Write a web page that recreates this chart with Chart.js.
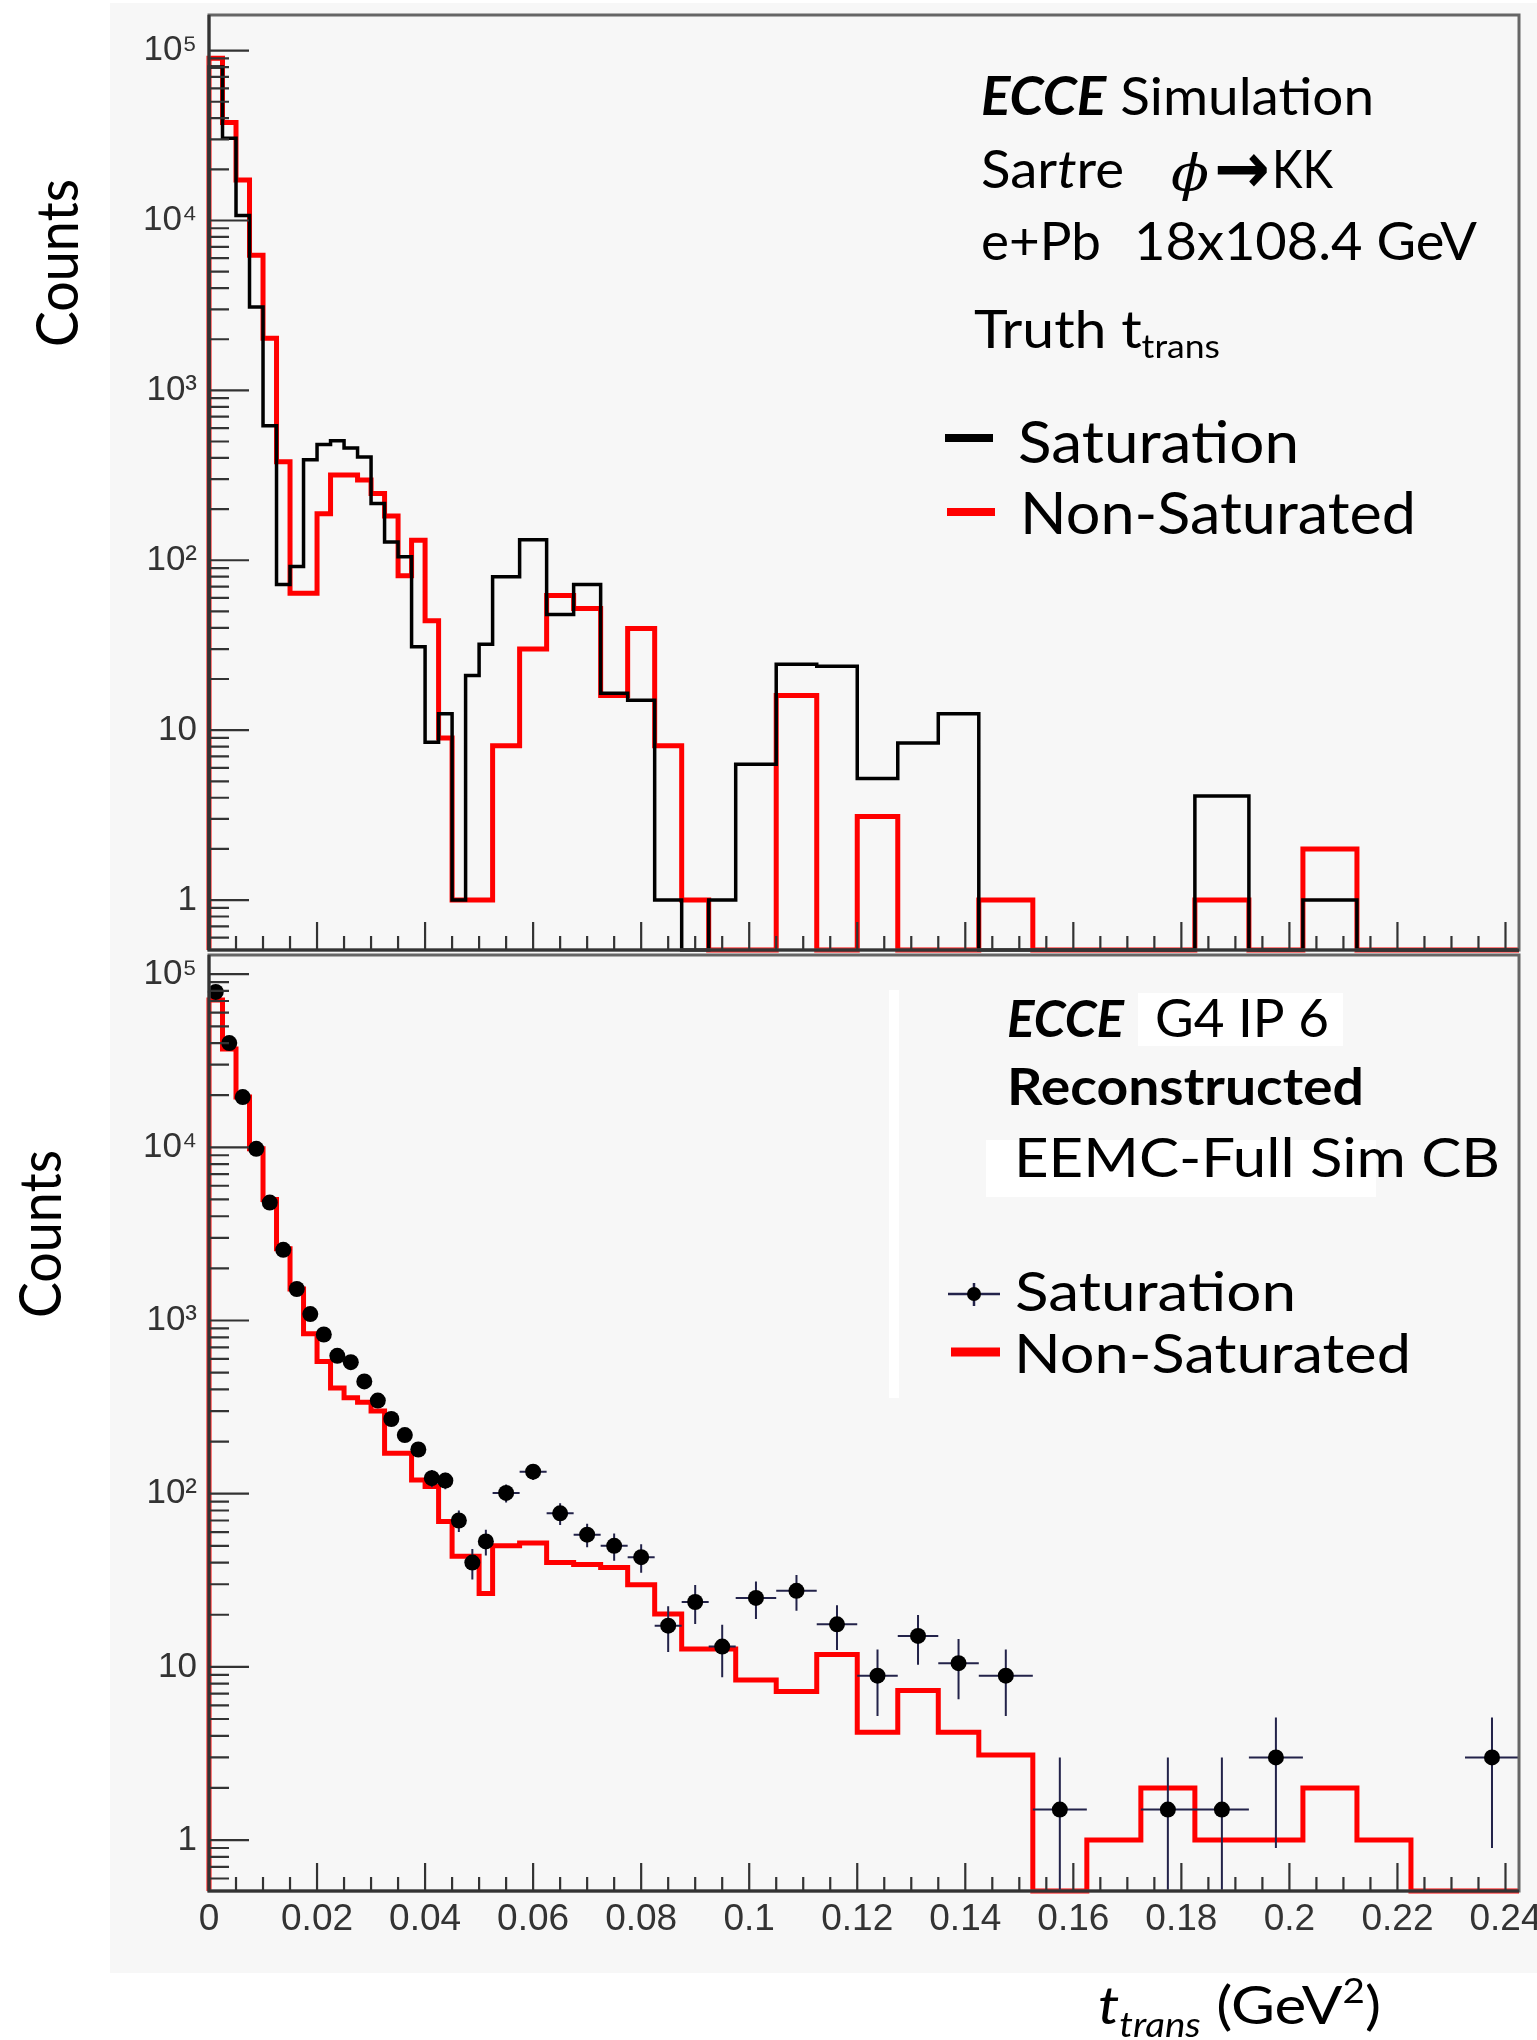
<!DOCTYPE html>
<html>
<head>
<meta charset="utf-8">
<script src="https://cdn.jsdelivr.net/npm/chart.js@4.4.1/dist/chart.umd.min.js"></script>
<style>
html,body{margin:0;padding:0;background:#fff;}
body{width:1537px;height:2040px;position:relative;overflow:hidden;}
.bg{position:absolute;}
.holder{position:absolute;left:0;}
canvas{display:block;}
</style>
</head>
<body>
<div class="bg" style="left:110px;top:3px;width:1427px;height:1970px;background:#f7f7f7"></div>
<div class="bg" style="left:1138px;top:993px;width:205px;height:53px;background:#fff"></div>
<div class="bg" style="left:986px;top:1140px;width:390px;height:57px;background:#fff"></div>
<div class="bg" style="left:889px;top:990px;width:10px;height:408px;background:#fff"></div>
<div class="bg" style="left:1084px;top:1973px;width:299px;height:67px;background:#fff"></div>
<div class="holder" style="top:0;width:1537px;height:1000px"><canvas id="topChart" width="1537" height="1000"></canvas></div>
<div class="holder" style="top:940px;width:1537px;height:1100px"><canvas id="botChart" width="1537" height="1100"></canvas></div>
<script>
// ---------------- DATA ----------------
const BIN_EDGES = [0,0.0025,0.005,0.0075,0.01,0.0125,0.015,0.0175,0.02,0.0225,0.025,0.0275,0.03,0.0325,0.035,0.0375,0.04,0.0425,0.045,0.0475,0.05,0.0525,
  0.0575,0.0625,0.0675,0.0725,0.0775,0.0825,0.0875,0.0925,0.0975,
  0.105,0.1125,0.12,0.1275,0.135,0.1425,
  0.1525,0.1625,0.1725,0.1825,0.1925,0.2025,0.2125,0.2225,0.2325,0.2425];

// Top panel: Truth t_trans
const TRUTH_SATURATION = [80000,30500,10700,3100,620,72,92,391,480,505,458,405,216,128,105,31,8.5,12.5,1,21,32,
  80,132,48,72,16.5,15,1,0,1,
  6.3,24.4,23.8,5.2,8.4,12.5,
  0,0,0,0,4.1,0,1,0,0,0];
const TRUTH_NONSATURATED = [90000,37700,17300,6250,2030,380,64,64,188,318,318,297,247,182,81,131,44,9,1,1,1,
  8.1,30,62,52,16,39.6,8.1,1,0,
  0,16,0,3.1,0,0,
  1,0,0,0,1,0,2,0,0,0];

// Bottom panel: Reconstructed
const RECO_NONSATURATED = [71000,37000,19500,9800,5000,2600,1520,838,580,408,358,337,300,171,171,120,110,69,43.5,43.5,26.5,
  50,52,40,39,37.5,29.8,20.2,12.7,12.7,
  8.4,7.2,11.8,4.2,7.3,4.2,
  3.1,0,1,2,1,1,2,1,0,0];
const RECO_SATURATION = [79000,40000,19500,9800,4800,2560,1520,1090,830,625,575,445,345,270,218,180,123,119,70,40,53,
  101,134,77,58,50,43,17.3,23.7,13.1,
  25,27.5,17.6,8.9,15.1,10.5,
  8.9,1.5,null,1.5,1.5,3,null,null,null,3];
const RECO_SATURATION_ERR = [344,245,171,121,85,62,48,40,35,31,29,26,23,20,18,16,14,13,10,8,9,
  12,14,11,9,9,8,5.1,6,4.4,
  6.1,6.4,5.1,3.7,4.8,4,
  3.7,1.5,null,1.5,1.5,2.1,null,null,null,2.1];

const X_TICKS = [0,0.02,0.04,0.06,0.08,0.1,0.12,0.14,0.16,0.18,0.2,0.22,0.24];
const X_TICK_LABELS = ['0','0.02','0.04','0.06','0.08','0.1','0.12','0.14','0.16','0.18','0.2','0.22','0.24'];
const Y_TICKS = [1,10,100,1000,10000,100000];
const Y_TICK_LABELS = ['1','10','10\u00B2','10\u00B3','10\u2074','10\u2075'];

const SERIES_NAMES = ['Saturation','Non-Saturated'];

// ---------------- AXIS RANGES / STYLE ----------------
const X_MIN = 0, X_MAX = 0.2425;
const Y_MIN = 0.508;
const TOP_Y_MAX = 1.62e5;
const BOT_Y_MAX = 1.29e5;
const X_MINOR = 0.005, X_MAJOR_EVERY = 4;
const X_TICK_FONT = {family:'"Liberation Sans", Arial, sans-serif', size:37};
const Y_TICK_FONT = {family:'"Liberation Sans", Arial, sans-serif', size:35};
const TXT = 'Lato, "Open Sans", sans-serif';

function histPoints(vals){
  const pts=[{x:BIN_EDGES[0],y:Y_MIN}];
  vals.forEach((v,i)=>pts.push({x:BIN_EDGES[i],y:v>0?v:Y_MIN}));
  pts.push({x:BIN_EDGES[BIN_EDGES.length-1],y:Y_MIN});
  return pts;
}
// Chart.js "before" = horizontal at previous value, then vertical at the new edge.
function histPointsStep(vals){
  // points at right edges so each bin is drawn horizontally across [edge_i, edge_i+1]
  const pts=[{x:BIN_EDGES[0],y:Y_MIN}];
  pts.push({x:BIN_EDGES[0],y:vals[0]>0?vals[0]:Y_MIN});
  for(let i=0;i<vals.length;i++){
    const nxt=(i+1<vals.length)?vals[i+1]:0;
    pts.push({x:BIN_EDGES[i+1],y:vals[i]>0?vals[i]:Y_MIN});
    pts.push({x:BIN_EDGES[i+1],y:nxt>0?nxt:Y_MIN});
  }
  return pts;
}
function centerPoints(vals){
  const pts=[];
  vals.forEach((v,i)=>{ if(v!=null) pts.push({x:(BIN_EDGES[i]+BIN_EDGES[i+1])/2,y:v}); });
  return pts;
}

function makeScales(yMax, showX, xHeight){
  return {
    x:{type:'linear',min:X_MIN,max:X_MAX,
      grid:{display:false,drawTicks:false},border:{display:false},
      ticks:{display:showX,autoSkip:false,maxRotation:0,minRotation:0,padding:7,color:'#333',font:X_TICK_FONT,
        callback:(v,i)=>X_TICK_LABELS[i]},
      afterBuildTicks:s=>{s.ticks=X_TICKS.map(v=>({value:v}));},
      afterFit:s=>{s.height=xHeight;s.paddingLeft=0;s.paddingRight=0;}
    },
    y:{type:'logarithmic',min:Y_MIN,max:yMax,
      grid:{display:false,drawTicks:false},border:{display:false},
      ticks:{autoSkip:false,padding:12,color:'#333',font:Y_TICK_FONT,
        callback:(v,i)=>Y_TICK_LABELS[i]},
      afterBuildTicks:s=>{s.ticks=Y_TICKS.map(v=>({value:v}));},
      afterFit:s=>{s.width=209;s.paddingTop=0;s.paddingBottom=0;}
    }
  };
}

// frame + inward ticks (ROOT style)
const frameTicks = {
  id:'frameTicks',
  afterDatasetsDraw(chart){
    const {ctx,chartArea:a,scales:{x,y}} = chart;
    ctx.save();
    ctx.strokeStyle='#666';ctx.lineWidth=3;
    ctx.strokeRect(a.left,a.top,a.right-a.left,a.bottom-a.top);
    ctx.strokeStyle='#333';ctx.lineWidth=3;
    ctx.beginPath();ctx.moveTo(a.left,a.top);ctx.lineTo(a.left,a.bottom);ctx.lineTo(a.right,a.bottom);ctx.stroke();
    ctx.lineWidth=2.2;ctx.strokeStyle='#333';
    ctx.beginPath();
    for(let e=-1;e<=6;e++){
      for(let k=1;k<=9;k++){
        const v=k*Math.pow(10,e);
        if(v<y.min||v>y.max) continue;
        const py=y.getPixelForValue(v);
        const len=(k===1)?40:20;
        ctx.moveTo(a.left,py);ctx.lineTo(a.left+len,py);
      }
    }
    for(let i=0;;i++){
      const v=i*X_MINOR;
      if(v>x.max+1e-9) break;
      const px=x.getPixelForValue(v);
      const len=(i%X_MAJOR_EVERY===0)?28:14;
      ctx.moveTo(px,a.bottom);ctx.lineTo(px,a.bottom-len);
    }
    ctx.stroke();
    ctx.restore();
  }
};

// error bars for points
const errorBars = {
  id:'errorBars',
  beforeDatasetDraw(chart,args){
    const ds=chart.data.datasets[args.index];
    if(!ds.isPoints) return;
    const {ctx,chartArea:a,scales:{x,y}}=chart;
    ctx.save();
    ctx.beginPath();ctx.rect(a.left,a.top,a.right-a.left,a.bottom-a.top);ctx.clip();
    ctx.strokeStyle='#23234a';ctx.lineWidth=2;
    ctx.beginPath();
    RECO_SATURATION.forEach((v,i)=>{
      if(v==null) return;
      const e=RECO_SATURATION_ERR[i];
      const cx=x.getPixelForValue((BIN_EDGES[i]+BIN_EDGES[i+1])/2);
      const cy=y.getPixelForValue(v);
      const yHi=y.getPixelForValue(v+e);
      const yLo=(v-e>0)?y.getPixelForValue(v-e):a.bottom+2;
      ctx.moveTo(cx,yHi);ctx.lineTo(cx,yLo);
      ctx.moveTo(x.getPixelForValue(BIN_EDGES[i]),cy);ctx.lineTo(x.getPixelForValue(BIN_EDGES[i+1]),cy);
    });
    ctx.stroke();
    ctx.restore();
  }
};

// text helper: draws parts and scales horizontally to target width
function drawFit(ctx,parts,x,baseline,width){
  let total=0;
  parts.forEach(p=>{ctx.font=p.f;p.w=ctx.measureText(p.t).width;total+=p.w;});
  const s=width?width/total:1;
  ctx.save();
  ctx.translate(x,baseline);ctx.scale(s,1);
  ctx.textAlign='left';ctx.textBaseline='alphabetic';ctx.fillStyle='#000';
  let cx=0;
  parts.forEach(p=>{ctx.font=p.f;ctx.fillText(p.t,cx,p.dy||0);cx+=p.w;});
  ctx.restore();
}
function drawVertical(ctx,text,font,baseX,startY,len){
  ctx.save();
  ctx.font=font;
  const w=ctx.measureText(text).width;
  ctx.translate(baseX,startY);ctx.rotate(-Math.PI/2);ctx.scale(len/w,1);
  ctx.fillStyle='#000';ctx.textAlign='left';ctx.textBaseline='alphabetic';
  ctx.fillText(text,0,0);
  ctx.restore();
}
function dash(ctx,x1,x2,y,color,lw){
  ctx.save();ctx.strokeStyle=color;ctx.lineWidth=lw;ctx.beginPath();ctx.moveTo(x1,y);ctx.lineTo(x2,y);ctx.stroke();ctx.restore();
}

const topText = {
  id:'topText',
  afterDraw(chart){
    const ctx=chart.ctx;
    drawVertical(ctx,'Counts','58px '+TXT,78,347,168);
    drawFit(ctx,[{t:'ECCE',f:'italic 700 53px '+TXT},{t:' Simulation',f:'53px '+TXT}],981,115,393);
    drawFit(ctx,[{t:'Sar',f:'52px '+TXT},{t:'t',f:'italic 52px '+TXT},{t:'re',f:'52px '+TXT}],981,188,143);
    drawFit(ctx,[{t:'\u03D5',f:'italic 50px "DejaVu Serif", serif'}],1171,190,38);
    drawFit(ctx,[{t:'\u2192',f:'bold 72px "DejaVu Sans", sans-serif'}],1214,193,56);
    drawFit(ctx,[{t:'KK',f:'52px '+TXT}],1272,188,61);
    drawFit(ctx,[{t:'e+Pb',f:'52px '+TXT}],981,260,120);
    drawFit(ctx,[{t:'18x108.4 GeV',f:'52px '+TXT}],1134,260,343);
    drawFit(ctx,[{t:'Truth t',f:'53px '+TXT},{t:'trans',f:'33px '+TXT,dy:10}],974,348,246);
    dash(ctx,945,993,438,'#000',8);
    drawFit(ctx,[{t:SERIES_NAMES[0],f:'58px '+TXT}],1018,463,281);
    dash(ctx,947,995,512,'#ff0000',8);
    drawFit(ctx,[{t:SERIES_NAMES[1],f:'58px '+TXT}],1020,534,396);
  }
};

const OFF=940;
const botText = {
  id:'botText',
  afterDraw(chart){
    const ctx=chart.ctx;
    drawVertical(ctx,'Counts','58px '+TXT,61,1318-OFF,168);
    drawFit(ctx,[{t:'ECCE',f:'italic 700 52px '+TXT}],1007,1037-OFF,117);
    drawFit(ctx,[{t:'G4 IP 6',f:'52px '+TXT}],1155,1037-OFF,174);
    drawFit(ctx,[{t:'Reconstructed',f:'700 52px '+TXT}],1007,1105-OFF,357);
    drawFit(ctx,[{t:'EEMC-Full Sim CB',f:'54px '+TXT}],1014,1177-OFF,486);
    // legend: points
    dash(ctx,948,1000,1294-OFF,'#23234a',2.5);
    ctx.save();ctx.strokeStyle='#23234a';ctx.lineWidth=2.5;ctx.beginPath();ctx.moveTo(974,1283-OFF);ctx.lineTo(974,1306-OFF);ctx.stroke();
    ctx.fillStyle='#000';ctx.beginPath();ctx.arc(974,1294-OFF,7,0,Math.PI*2);ctx.fill();ctx.restore();
    drawFit(ctx,[{t:SERIES_NAMES[0],f:'55px '+TXT}],1015,1311-OFF,281);
    dash(ctx,951,1000,1352-OFF,'#ff0000',9);
    drawFit(ctx,[{t:SERIES_NAMES[1],f:'55px '+TXT}],1014,1373-OFF,397);
    // x title
    drawFit(ctx,[{t:'t',f:'italic 53px '+TXT},{t:'trans',f:'italic 34px '+TXT,dy:13},{t:' (GeV',f:'53px '+TXT},{t:'2',f:'34px '+TXT,dy:-21},{t:')',f:'53px '+TXT}],1098,2024-OFF,283);
  }
};

Chart.defaults.font.family='"Liberation Sans", Arial, sans-serif';

const lineDs = (label,vals,color,width)=>({label,data:histPointsStep(vals),stepped:false,borderColor:color,borderWidth:width,
  pointRadius:0,fill:false,clip:5,borderJoinStyle:'miter',tension:0});

new Chart(document.getElementById('topChart'),{
  type:'line',
  data:{datasets:[
    lineDs(SERIES_NAMES[0],TRUTH_SATURATION,'#000',3.5),
    lineDs(SERIES_NAMES[1],TRUTH_NONSATURATED,'#ff0000',5)
  ]},
  options:{
    responsive:false,animation:false,events:[],
    layout:{autoPadding:false,padding:{left:0,right:18,top:15,bottom:0}},
    plugins:{legend:{display:false},tooltip:{enabled:false}},
    scales:makeScales(TOP_Y_MAX,false,50)
  },
  plugins:[frameTicks,topText]
});

new Chart(document.getElementById('botChart'),{
  type:'line',
  data:{datasets:[
    {label:SERIES_NAMES[0],type:'scatter',isPoints:true,data:centerPoints(RECO_SATURATION),showLine:false,pointRadius:8,pointHoverRadius:8,pointBackgroundColor:'#000',pointBorderColor:'#000',pointBorderWidth:0,clip:10},
    lineDs(SERIES_NAMES[1],RECO_NONSATURATED,'#ff0000',5)
  ]},
  options:{
    responsive:false,animation:false,events:[],
    layout:{autoPadding:false,padding:{left:0,right:18,top:15,bottom:0}},
    plugins:{legend:{display:false},tooltip:{enabled:false}},
    scales:makeScales(BOT_Y_MAX,true,149)
  },
  plugins:[frameTicks,errorBars,botText]
});
</script>
</body>
</html>
